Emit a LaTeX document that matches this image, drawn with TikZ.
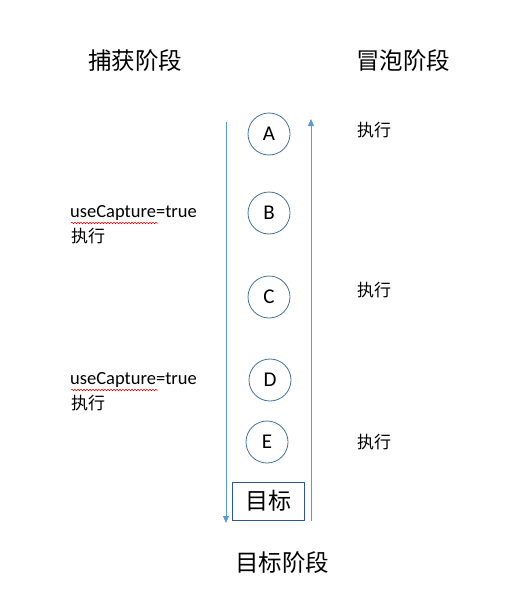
\documentclass[tikz,border=0pt]{standalone}
\usepackage{fontspec}
\setmainfont{Carlito}
\newfontfamily\cjk{Noto Sans CJK SC}
\usetikzlibrary{arrows.meta,decorations.pathmorphing}
\definecolor{lineblue}{HTML}{5B9BD5}
\definecolor{circblue}{HTML}{41719C}
\definecolor{boxblue}{HTML}{2F5597}
\tikzset{
  x=1pt,y=-1pt,
  title/.style={font=\cjk\fontsize{23.5}{26}\selectfont, inner sep=0pt},
  exec/.style={font=\cjk\fontsize{17}{20}\selectfont, inner sep=0pt},
  ucap/.style={font=\fontsize{18.5}{22}\selectfont, inner sep=0pt, anchor=west},
  evt/.style={circle, draw=circblue, line width=0.8pt, minimum size=42pt, inner sep=0pt, font=\fontsize{21}{24}\selectfont},
  flow/.style={draw=lineblue, line width=1pt, -{Triangle[length=7pt,width=6pt]}},
  squig/.style={draw=red, line width=0.5pt, decorate, decoration={snake, amplitude=0.8pt, segment length=3pt}}
}
\begin{document}
\begin{tikzpicture}
\useasboundingbox (0,0) rectangle (508,605);
\node[title] (cap) at (135,61) {捕获阶段};
\node[title] (bub) at (403,61) {冒泡阶段};
\node[title] (tgt) at (282,563) {目标阶段};

\node[evt] (A) at (269,134) {A};
\node[evt] (B) at (269,213) {B};
\node[evt] (C) at (269,297) {C};
\node[evt] (D) at (270,380) {D};
\node[evt] (E) at (267,442) {E};
\node[draw=boxblue, line width=0.8pt, minimum width=72pt, minimum height=38pt, inner sep=0pt, font=\cjk\fontsize{23}{26}\selectfont] (T) at (268,501) {目标};

\coordinate (ltop) at (226,122);
\coordinate (lbot) at (226,523);
\coordinate (rbot) at (311,521);
\coordinate (rtop) at (311,119);
\draw[flow] (ltop) -- (lbot);
\draw[flow] (rbot) -- (rtop);

\node[exec] (e1) at (374,130) {执行};
\node[exec] (e2) at (374,290) {执行};
\node[exec] (e3) at (374,442) {执行};

\node[ucap] (u1) at (70,213) {useCapture=true};
\node[exec, anchor=west] (x1) at (71,236) {执行};
\node[ucap] (u2) at (70,380) {useCapture=true};
\node[exec, anchor=west] (x2) at (71,403) {执行};

\coordinate (s1a) at (71,223); \coordinate (s1b) at (158,223);
\coordinate (s2a) at (71,390); \coordinate (s2b) at (158,390);
\draw[squig] (s1a) -- (s1b);
\draw[squig] (s2a) -- (s2b);
\end{tikzpicture}
\end{document}
